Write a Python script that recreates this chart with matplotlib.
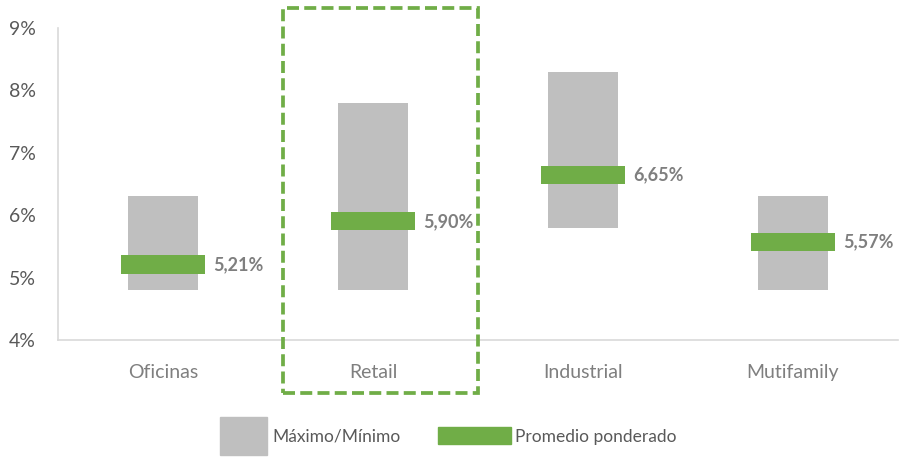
import matplotlib
matplotlib.use("Agg")
import matplotlib.pyplot as plt
from matplotlib.patches import Rectangle
import numpy as np

# rangos de cap rate por tipo de activo (%)
categorias = ["Oficinas", "Retail", "Industrial", "Mutifamily"]
minimo = [4.8, 4.8, 5.8, 4.8]
maximo = [6.3, 7.8, 8.3, 6.3]
promedio = [5.21, 5.90, 6.65, 5.57]
etiquetas = ["5,21%", "5,90%", "6,65%", "5,57%"]
yticks = [4, 5, 6, 7, 8, 9]

GRIS = "#bfbfbf"
VERDE = "#70ad47"
TEXTO = "#595959"
TEXTO_CLARO = "#7f7f7f"

plt.rcParams["font.family"] = ["Lato", "DejaVu Sans"]

fig = plt.figure(figsize=(9.04, 4.62), dpi=100)
ax = fig.add_axes([58 / 904, 1 - 340 / 462, 840 / 904, 312 / 462])

x = np.arange(len(categorias))
alto = np.array(maximo) - np.array(minimo)
ax.bar(x, alto, bottom=minimo, width=0.333, color=GRIS, zorder=2)

grosor = 0.29
ax.bar(x, grosor, bottom=np.array(promedio) - grosor / 2, width=0.4,
       color=VERDE, zorder=3)

for xi, v, t in zip(x, promedio, etiquetas):
    ax.text(xi + 0.24, v, t, ha="left", va="center", fontsize=13,
            fontweight="bold", color=TEXTO_CLARO)

ax.set_xlim(-0.5, len(categorias) - 0.5)
ax.set_ylim(4, 9)
ax.set_yticks(yticks)
ax.set_yticklabels([f"{t}%" for t in yticks])
ax.set_xticks(x)
ax.set_xticklabels(categorias)
ax.tick_params(length=0)
ax.tick_params(axis="x", pad=17, labelsize=14, labelcolor=TEXTO_CLARO)
ax.tick_params(axis="y", pad=16, labelsize=14, labelcolor=TEXTO)
for s in ["top", "right"]:
    ax.spines[s].set_visible(False)
for s in ["left", "bottom"]:
    ax.spines[s].set_color("#d9d9d9")
    ax.spines[s].set_linewidth(1.2)

# recuadro punteado que resalta Retail
ax.add_patch(Rectangle((0.571, 3.15), 0.929, 6.17, fill=False,
                       edgecolor=VERDE, linewidth=2.7, linestyle=(0, (3.2, 1.4)),
                       clip_on=False, zorder=4))

# leyenda
def px(xp, yp, w, h):
    return (xp / 904, 1 - (yp + h) / 462), w / 904, h / 462

xy, w, h = px(220, 417, 47, 38)
fig.add_artist(Rectangle(xy, w, h, transform=fig.transFigure, color=GRIS))
fig.text(272 / 904, 1 - 437 / 462, "Máximo/Mínimo", fontsize=12.5,
         color=TEXTO, va="center", ha="left")
xy, w, h = px(438, 427, 73, 17)
fig.add_artist(Rectangle(xy, w, h, transform=fig.transFigure, color=VERDE))
fig.text(515 / 904, 1 - 437 / 462, "Promedio ponderado", fontsize=12.5,
         color=TEXTO, va="center", ha="left")

fig.savefig("out.png", dpi=100)
